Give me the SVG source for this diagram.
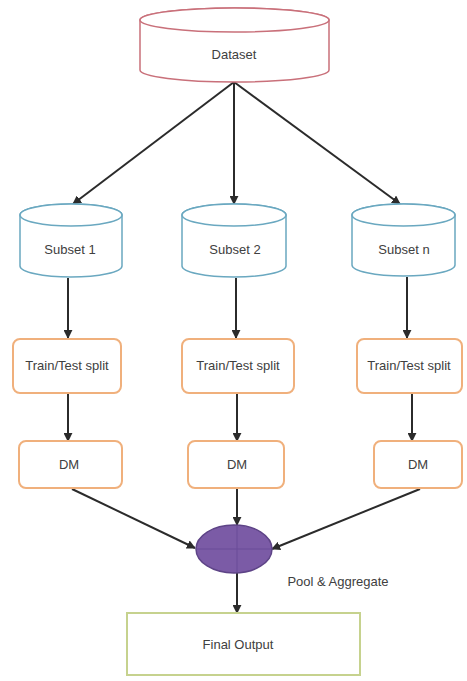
<svg xmlns="http://www.w3.org/2000/svg" width="467" height="681" viewBox="0 0 467 681">
  <defs>
    <marker id="arrow" viewBox="0 0 10 10" refX="9" refY="5" markerWidth="9" markerHeight="9" markerUnits="userSpaceOnUse" orient="auto">
      <path d="M0,0 L10,5 L0,10 z" fill="#2b2b2b"/>
    </marker>
    <style>
      .lbl { font-family: "Liberation Sans", "Open Sans", sans-serif; font-size: 13px; fill: #404040; text-anchor: middle; }
      .db-red { fill: #ffffff; stroke: #c9707a; stroke-width: 1.5; }
      .db-blue { fill: #ffffff; stroke: #6aa8c0; stroke-width: 1.5; }
      .step { fill: #ffffff; stroke: #f0b07c; stroke-width: 2; }
      .final { fill: #ffffff; stroke: #c6d28e; stroke-width: 2; }
      .link { stroke: #2b2b2b; stroke-width: 2; fill: none; marker-end: url(#arrow); }
    </style>
  </defs>
  <rect width="467" height="681" fill="#ffffff"/>

  <!-- connectors -->
  <g id="connectors">
    <line class="link" x1="234" y1="82" x2="73" y2="204"/>
    <line class="link" x1="234" y1="82" x2="234" y2="204"/>
    <line class="link" x1="234" y1="82" x2="400" y2="204"/>
    <line class="link" x1="68" y1="278" x2="68" y2="338"/>
    <line class="link" x1="236" y1="278" x2="236" y2="338"/>
    <line class="link" x1="407" y1="277" x2="407" y2="338"/>
    <line class="link" x1="68" y1="393" x2="68" y2="441"/>
    <line class="link" x1="237" y1="393" x2="237" y2="441"/>
    <line class="link" x1="412" y1="393" x2="412" y2="441"/>
    <line class="link" x1="72" y1="489" x2="195" y2="548"/>
    <line class="link" x1="237" y1="488" x2="237" y2="525"/>
    <line class="link" x1="420" y1="489" x2="272" y2="549"/>
    <line class="link" x1="237" y1="573" x2="237" y2="613"/>
  </g>

  <!-- source dataset -->
  <g id="dataset">
    <path class="db-red" d="M140,20 L140,70 A94.5,12 0 0 0 329,70 L329,20 A94.5,12 0 0 0 140,20 Z"/>
    <ellipse class="db-red" cx="234.5" cy="20" rx="94.5" ry="12"/>
    <text class="lbl" x="234" y="59">Dataset</text>
  </g>

  <!-- subsets -->
  <g id="subset-1">
    <path class="db-blue" d="M20,215 L20,266 A51,11 0 0 0 122,266 L122,215 A51,11 0 0 0 20,215 Z"/>
    <ellipse class="db-blue" cx="71" cy="215" rx="51" ry="11"/>
    <text class="lbl" x="70" y="254">Subset 1</text>
  </g>
  <g id="subset-2">
    <path class="db-blue" d="M182,215 L182,266 A52,11 0 0 0 286,266 L286,215 A52,11 0 0 0 182,215 Z"/>
    <ellipse class="db-blue" cx="234" cy="215" rx="52" ry="11"/>
    <text class="lbl" x="235" y="254">Subset 2</text>
  </g>
  <g id="subset-n">
    <path class="db-blue" d="M352,215 L352,265 A51.5,11 0 0 0 455,265 L455,215 A51.5,11 0 0 0 352,215 Z"/>
    <ellipse class="db-blue" cx="403.5" cy="215" rx="51.5" ry="11"/>
    <text class="lbl" x="404" y="254">Subset n</text>
  </g>

  <!-- train/test split steps -->
  <g id="split-1">
    <rect class="step" x="13" y="339" width="108" height="54" rx="7"/>
    <text class="lbl" x="67" y="370">Train/Test split</text>
  </g>
  <g id="split-2">
    <rect class="step" x="182" y="339" width="112" height="54" rx="7"/>
    <text class="lbl" x="238" y="370">Train/Test split</text>
  </g>
  <g id="split-n">
    <rect class="step" x="357" y="339" width="105" height="54" rx="7"/>
    <text class="lbl" x="409" y="370">Train/Test split</text>
  </g>

  <!-- DM steps -->
  <g id="dm-1">
    <rect class="step" x="19" y="441" width="103" height="47" rx="7"/>
    <text class="lbl" x="69" y="469">DM</text>
  </g>
  <g id="dm-2">
    <rect class="step" x="188" y="441" width="96" height="47" rx="7"/>
    <text class="lbl" x="237" y="469">DM</text>
  </g>
  <g id="dm-n">
    <rect class="step" x="374" y="441" width="88" height="47" rx="7"/>
    <text class="lbl" x="418" y="469">DM</text>
  </g>

  <!-- pooling node, with the faint crossing lines visible inside it -->
  <g id="pool">
    <ellipse cx="234" cy="549" rx="38" ry="24" fill="#7b5ba6" stroke="#5e4487" stroke-width="1.5"/>
    <line x1="197" y1="549" x2="271" y2="549" stroke="#6a4c98" stroke-width="1"/>
    <line x1="237" y1="526" x2="237" y2="572" stroke="#6a4c98" stroke-width="1"/>
    <text class="lbl" x="338" y="586">Pool &amp; Aggregate</text>
  </g>

  <!-- final output -->
  <g id="final-output">
    <rect class="final" x="127" y="613" width="233" height="62"/>
    <text class="lbl" x="238" y="649">Final Output</text>
  </g>
</svg>
